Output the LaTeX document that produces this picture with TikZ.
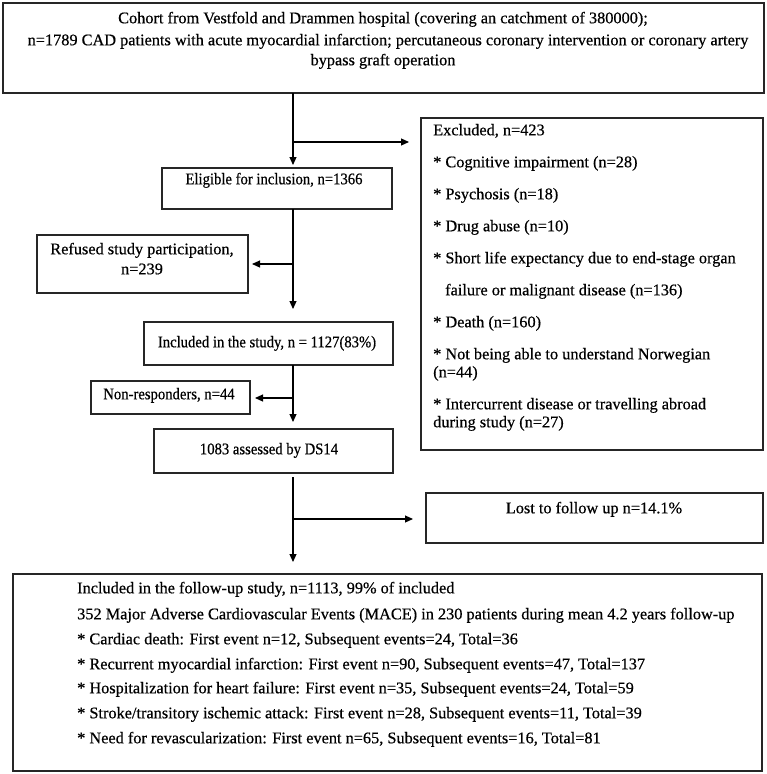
\documentclass[tikz,border=0pt]{standalone}
\usepackage{fontspec}
\setmainfont[FakeBold=0.5]{Liberation Serif}
\newfontfamily\condfont[FakeBold=0.5,FakeStretch=0.9]{Liberation Serif}
\usetikzlibrary{arrows.meta}
\begin{document}
\begin{tikzpicture}[x=1pt,y=-1pt,
  box/.style={draw=black!85,line width=1.3pt,inner sep=0pt,outer sep=0pt,anchor=north west},
  txt/.style={inner sep=0pt,anchor=mid,font=\fontsize{16.3}{19}\selectfont},
  stxt/.style={txt,font=\condfont\fontsize{16.3}{19}\selectfont},
  ltxt/.style={txt,anchor=mid west},
  conn/.style={line width=1.1pt,-{Triangle[length=8pt,width=7pt]}}]
\useasboundingbox (0,0) rectangle (767,774);

% boxes
\node[box,minimum width=761pt,minimum height=90pt] (top) at (3,3) {};
\node[box,minimum width=230pt,minimum height=41pt] (elig) at (162,168) {};
\node[box,minimum width=211pt,minimum height=58pt] (refu) at (37,235) {};
\node[box,minimum width=249pt,minimum height=43pt] (incl) at (144,322) {};
\node[box,minimum width=159pt,minimum height=33pt] (nonr) at (91,381) {};
\node[box,minimum width=239pt,minimum height=44pt] (ds) at (154,429) {};
\node[box,minimum width=342pt,minimum height=332pt] (excl) at (421,118) {};
\node[box,minimum width=337pt,minimum height=50pt] (lost) at (426,493) {};
\node[box,minimum width=749pt,minimum height=197pt] (foll) at (13,574) {};

% texts
\node[txt] (t1) at (383,21) {Cohort from Vestfold and Drammen hospital (covering an catchment of 380000);};
\node[txt] (t2) at (388,43) {n=1789 CAD patients with acute myocardial infarction; percutaneous coronary intervention or coronary artery};
\node[txt] (t3) at (383,63) {bypass graft operation};

\node[stxt] (te) at (274,182) {Eligible for inclusion, n=1366};
\node[txt] (tr1) at (142,252) {Refused study participation,};
\node[txt] (tr2) at (142,272) {n=239};
\node[stxt] (ti) at (267,345) {Included in the study, n = 1127(83\%)};
\node[stxt] (tn) at (169,397) {Non-responders, n=44};
\node[stxt] (td) at (269,452) {1083 assessed by DS14};
\node[txt] (tl) at (594,511) {Lost to follow up n=14.1\%};

\node[ltxt] (x1) at (433,133) {Excluded, n=423};
\node[ltxt] (x2) at (433,165) {* Cognitive impairment (n=28)};
\node[ltxt] (x3) at (433,197) {* Psychosis (n=18)};
\node[ltxt] (x4) at (433,229) {* Drug abuse (n=10)};
\node[ltxt] (x5) at (433,261) {* Short life expectancy due to end-stage organ};
\node[ltxt] (x6) at (445,293) {failure or malignant disease (n=136)};
\node[ltxt] (x7) at (433,325) {* Death (n=160)};
\node[ltxt] (x8) at (433,357) {* Not being able to understand Norwegian};
\node[ltxt] (x9) at (433,375) {(n=44)};
\node[ltxt] (x10) at (433,407) {* Intercurrent disease or travelling abroad};
\node[ltxt] (x11) at (433,425) {during study (n=27)};

\node[ltxt] (f1) at (77,591) {Included in the follow-up study, n=1113, 99\% of included};
\node[ltxt] (f2) at (77,617) {352 Major Adverse Cardiovascular Events (MACE) in 230 patients during mean 4.2 years follow-up};
\node[ltxt] (f3) at (77,642) {* Cardiac death: First event n=12, Subsequent events=24, Total=36};
\node[ltxt] (f4) at (77,667) {* Recurrent myocardial infarction: First event n=90, Subsequent events=47, Total=137};
\node[ltxt] (f5) at (77,691) {* Hospitalization for heart failure: First event n=35, Subsequent events=24, Total=59};
\node[ltxt] (f6) at (77,716) {* Stroke/transitory ischemic attack: First event n=28, Subsequent events=11, Total=39};
\node[ltxt] (f7) at (77,741) {* Need for revascularization: First event n=65, Subsequent events=16, Total=81};

% junctions on the trunk
\coordinate (j1) at (293,142);
\coordinate (j2) at (293,264);
\coordinate (j3) at (293,398);
\coordinate (j4) at (293,519);

% connectors
\draw[conn,shorten >=3pt] (top.south -| j1) -- (elig.north -| j1);
\draw[conn,shorten >=12pt] (j1) -- (excl.west |- j1);
\draw[conn,shorten >=13pt] (elig.south -| j2) -- (incl.north -| j2);
\draw[conn,shorten >=4pt] (j2) -- (refu.east |- j2);
\draw[conn,shorten >=7pt] (incl.south -| j3) -- (ds.north -| j3);
\draw[conn,shorten >=5pt] (j3) -- (nonr.east |- j3);
\draw[conn,shorten <=4pt,shorten >=12pt] (ds.south -| j4) -- (foll.north -| j4);
\draw[conn,shorten >=13pt] (j4) -- (lost.west |- j4);
\end{tikzpicture}
\end{document}
